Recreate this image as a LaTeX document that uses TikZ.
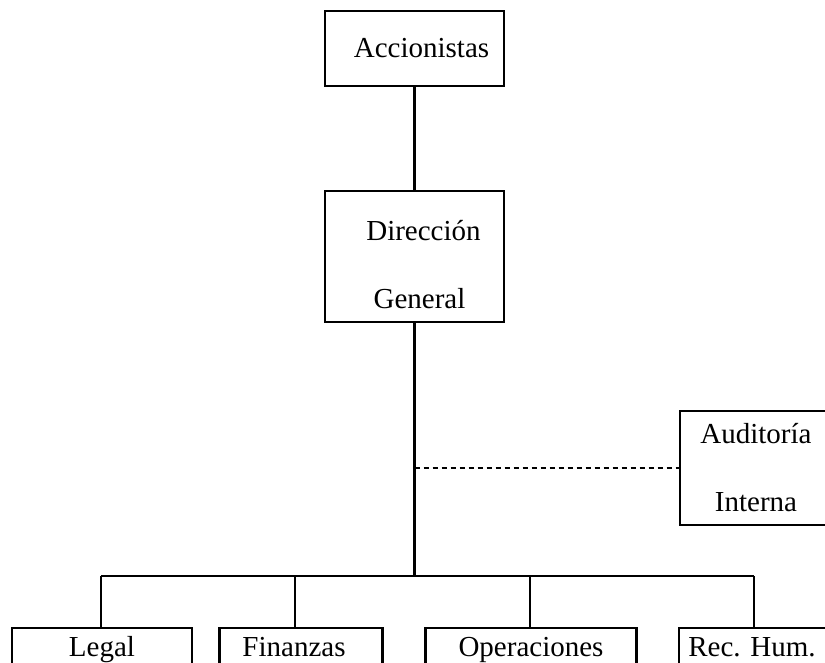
\documentclass[tikz,border=0pt]{standalone}
\usepackage{fontspec}
\setmainfont{Liberation Serif}
\begin{document}
\begin{tikzpicture}[x=1pt,y=-1pt,
  box/.style={draw, line width=2.2pt, inner sep=0pt, font=\fontsize{29}{68}\selectfont, align=center},
  lowbox/.style={draw, line width=2.2pt, inner xsep=0pt, inner ysep=0pt, anchor=north, text height=28pt, text depth=50pt, font=\fontsize{29}{34}\selectfont},
  conn/.style={line width=2.2pt},
  dconn/.style={line width=1.2pt, dash pattern=on 5pt off 4pt}]
\useasboundingbox (0,0) rectangle (825,663);
\clip (0,0) rectangle (825,663);
\node[box, minimum width=179pt, minimum height=75pt] (acc) at (414.5,48.5) {\hspace*{14pt}Accionistas};
\node[box, minimum width=179pt, minimum height=131pt] (dg) at (414.5,256.5) {\rule{0pt}{36pt}\hspace*{18pt}Dirección\\\hspace*{10pt}General};
\node[box, minimum width=152pt, minimum height=114pt] (aud) at (756,468) {Auditoría\\Interna};
\node[lowbox, minimum width=180pt] (legal) at (102,627) {Legal};
\node[lowbox, minimum width=163pt] (fin) at (301,627) {\hspace*{-14pt}Finanzas};
\node[lowbox, minimum width=211pt] (ops) at (531,627) {Operaciones};
\node[lowbox, minimum width=154pt] (rh) at (756,627) {\hspace*{-8pt}Rec. Hum.};
\coordinate (bus) at (414.5,576);
\coordinate (jn) at (dg.south |- aud.west);
\draw[conn] (acc.south) -- (dg.north);
\draw[conn] (dg.south) -- (bus);
\draw[dconn] (jn) -- (aud.west);
\coordinate (bl) at (101,576);
\coordinate (bf) at (295,576);
\coordinate (bo) at (530,576);
\coordinate (br) at (754,576);
\draw[conn] (bl) -- (br);
\draw[conn] (bl) -- (bl |- legal.north);
\draw[conn] (bf) -- (bf |- fin.north);
\draw[conn] (bo) -- (bo |- ops.north);
\draw[conn] (br) -- (br |- rh.north);
\end{tikzpicture}
\end{document}
